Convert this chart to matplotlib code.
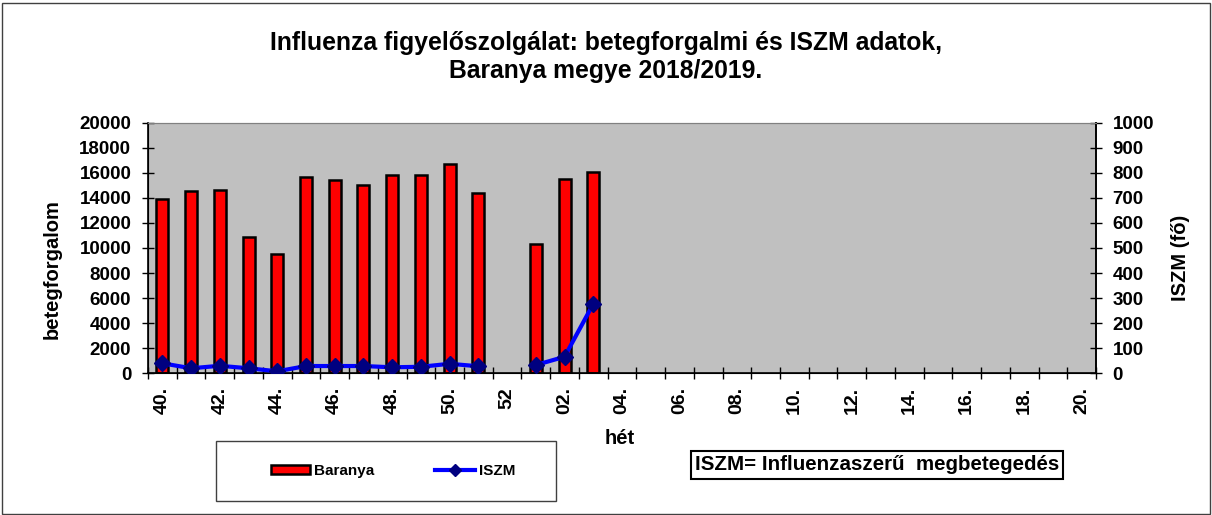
import numpy as np
import matplotlib
matplotlib.use("Agg")
import matplotlib.pyplot as plt
from matplotlib.patches import Rectangle

plt.rcParams['font.family'] = ['Liberation Sans', 'DejaVu Sans']
plt.rcParams['font.weight'] = 'bold'

weeks = ["40.", "41.", "42.", "43.", "44.", "45.", "46.", "47.", "48.", "49.", "50.", "51.", "52",
         "01.", "02.", "03.", "04.", "05.", "06.", "07.", "08.", "09.", "10.", "11.", "12.",
         "13.", "14.", "15.", "16.", "17.", "18.", "19.", "20."]
nan = np.nan
baranya = [13900, 14570, 14650, 10850, 9550, 15640, 15430, 15050, 15800, 15800, 16700, 14370, nan,
           10340, 15530, 16070] + [nan] * 17
iszm = [40, 20, 30, 20, 8, 29, 29, 29, 24, 26, 38, 28, nan,
        33, 66, 277] + [nan] * 17

title = "Influenza figyelőszolgálat: betegforgalmi és ISZM adatok,\nBaranya megye 2018/2019."

fig = plt.figure(figsize=(12.12, 5.15), dpi=100)
ax = fig.add_axes([148/1212, 1 - 373.3/515, (1096-148)/1212, (373.3-122.7)/515])
ax.set_facecolor('#C0C0C0')
x = np.arange(len(weeks))
bars = ax.bar(x, baranya, width=0.42, color='#FF0000', edgecolor='black', linewidth=1.8, label='Baranya', zorder=2)
ax.set_xlim(-0.5, len(weeks) - 0.5)
ax.set_ylim(0, 20000)
ax.set_yticks(np.arange(0, 20001, 2000))
ax.tick_params(axis='y', direction='inout', length=8, width=1, labelsize=13.5, pad=8)
ax.set_xticks(x[::2])
ax.set_xticklabels(weeks[::2], rotation=90, fontsize=14, fontweight='bold')
ax.set_xticks(np.arange(-0.5, len(weeks), 1), minor=True)
ax.tick_params(axis='x', which='major', length=0, pad=10)
ax.tick_params(axis='x', which='minor', direction='inout', length=9, width=1)
for lbl in ax.get_yticklabels():
    lbl.set_fontweight('bold')
for s in ['left', 'bottom', 'right']:
    ax.spines[s].set_color('black')
    ax.spines[s].set_linewidth(1.2)
ax.spines['top'].set_color('#808080')

ax2 = ax.twinx()
ax2.set_ylim(0, 1000)
ax2.set_yticks(np.arange(0, 1001, 100))
line, = ax2.plot(x, iszm, color='#0000FF', linewidth=3, marker='D', markersize=8,
                 markerfacecolor='#000080', markeredgecolor='#000080', label='ISZM', zorder=3)
ax2.tick_params(axis='y', direction='inout', length=8, width=1, labelsize=13.5, pad=8)
for lbl in ax2.get_yticklabels():
    lbl.set_fontweight('bold')
ax2.spines['right'].set_color('black')
ax2.spines['right'].set_linewidth(1.2)
ax2.spines['top'].set_color('#808080')

fig.text(0.5, 1 - 57/515, title, ha='center', va='center', fontsize=17.8, fontweight='bold', linespacing=1.2)
fig.text(52/1212, 1 - 269/515, 'betegforgalom', rotation=90, ha='center', va='center', fontsize=14.5, fontweight='bold')
fig.text(1181/1212, 1 - 258/515, 'ISZM (fő)', rotation=90, ha='center', va='center', fontsize=14.5, fontweight='bold')
fig.text(620/1212, 1 - 438/515, 'hét', ha='center', va='center', fontsize=14.5, fontweight='bold')

# legend box
fig.patches.append(Rectangle((216/1212, 1 - 501/515), (556-216)/1212, (501-441)/515,
                             transform=fig.transFigure, fill=False, edgecolor='#404040', linewidth=1))
fig.legend([bars, line], ['Baranya', 'ISZM'], loc='center', bbox_to_anchor=(393/1212, 1 - 471/515),
           ncol=2, frameon=False, prop={'size': 11, 'weight': 'bold'}, columnspacing=4.0,
           handlelength=2.6, handletextpad=0.25, handleheight=0.55, markerscale=0.75)

fig.text(877/1212, 1 - 465/515, 'ISZM= Influenzaszerű  megbetegedés', ha='center', va='center',
         fontsize=14.8, fontweight='bold',
         bbox=dict(boxstyle='square,pad=0.2', facecolor='white', edgecolor='black', linewidth=1.5))

fig.patches.append(Rectangle((2.5/1212, 1.5/515), 1207/1212, 511/515, transform=fig.transFigure,
                             fill=False, edgecolor='#404040', linewidth=1))

fig.savefig('out.png', dpi=100)
